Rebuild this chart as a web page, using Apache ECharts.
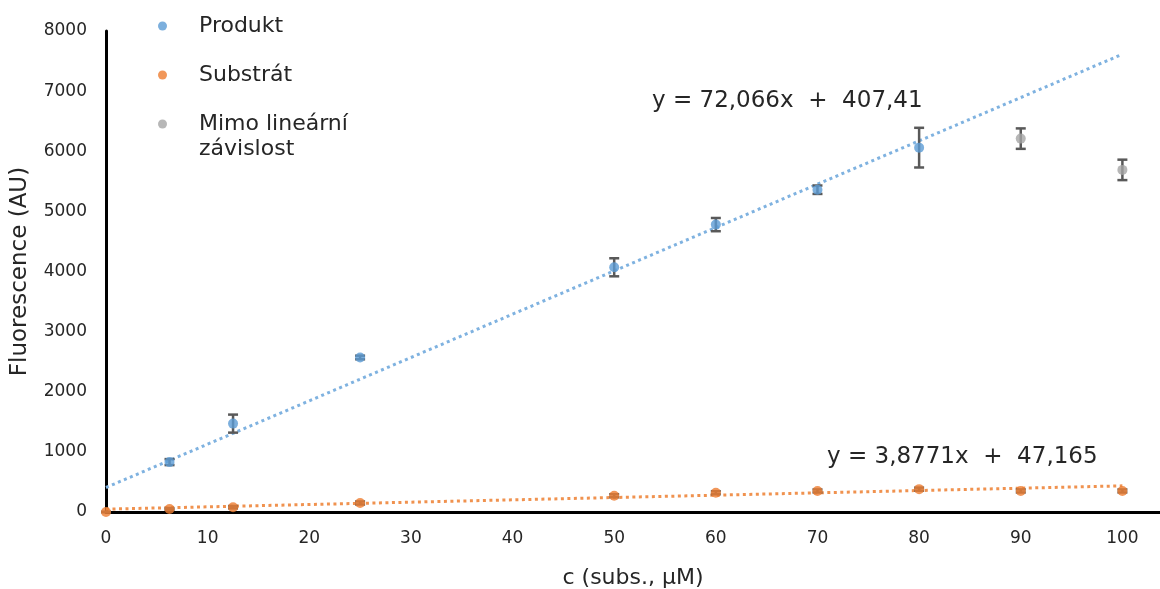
<!DOCTYPE html>
<html>
<head>
<meta charset="utf-8">
<script src="https://cdn.jsdelivr.net/npm/echarts@6/dist/echarts.min.js"></script>
<style>
html,body{margin:0;padding:0;background:#fff;}
#chart{width:1160px;height:589px;}
</style>
</head>
<body>
<div id="chart"></div>
<script>
// ---- data ----
var produktX = [6.25, 12.5, 25, 50, 60, 70, 80];
var produktY = [830, 1470, 2570, 4070, 4780, 5360, 6060];
var produktErr = [50, 150, 30, 150, 110, 70, 330];

var mimoX = [90, 100];
var mimoY = [6210, 5690];
var mimoErr = [170, 170];

var substratX = [0, 6.25, 12.5, 25, 50, 60, 70, 80, 90, 100];
var substratY = [0, 50, 80, 150, 270, 320, 350, 380, 350, 350];
var substratErr = [5, 15, 20, 25, 25, 25, 25, 25, 25, 25];

var trendProdukt = {slope: 72.066, intercept: 407.41, from: 0, to: 100};
var trendSubstrat = {slope: 3.8771, intercept: 47.165, from: 0, to: 100};

var eqProdukt = 'y = 72,066x  +  407,41';
var eqSubstrat = 'y = 3,8771x  +  47,165';

var xTicks = [0, 10, 20, 30, 40, 50, 60, 70, 80, 90, 100];
var yTicks = [0, 1000, 2000, 3000, 4000, 5000, 6000, 7000, 8000];

var names = ['Produkt', 'Substrát', 'Mimo lineární'];
var colors = ['#5B9BD5', '#ED7D31', '#A5A5A5'];

function zip(xs, ys) { return xs.map(function (x, i) { return [x, ys[i]]; }); }
function errData(xs, ys, es) { return xs.map(function (x, i) { return [x, ys[i] - es[i], ys[i] + es[i]]; }); }
function trend(t) { return [[t.from, t.slope * t.from + t.intercept], [t.to, t.slope * t.to + t.intercept]]; }

function errRender(params, api) {
  var x = api.value(0);
  var lo = api.coord([x, api.value(1)]);
  var hi = api.coord([x, api.value(2)]);
  var hw = 5;
  var st = {stroke: '#595959', lineWidth: 2.5};
  return {
    type: 'group',
    children: [
      {type: 'line', shape: {x1: lo[0], y1: lo[1], x2: hi[0], y2: hi[1]}, style: st},
      {type: 'line', shape: {x1: lo[0] - hw, y1: lo[1], x2: lo[0] + hw, y2: lo[1]}, style: st},
      {type: 'line', shape: {x1: hi[0] - hw, y1: hi[1], x2: hi[0] + hw, y2: hi[1]}, style: st}
    ]
  };
}

var FONT = 'DejaVu Sans';
var chart = echarts.init(document.getElementById('chart'), null, {renderer: 'canvas'});
chart.setOption({
  animation: false,
  backgroundColor: '#ffffff',
  textStyle: {fontFamily: FONT},
  grid: {left: 106, right: 0, top: 31, bottom: 77, containLabel: false, outerBoundsMode: 'none'},
  legend: {
    orient: 'vertical',
    left: 153,
    top: 10,
    itemGap: 27,
    icon: 'circle',
    itemWidth: 9,
    itemHeight: 9,
    selectedMode: false,
    data: names,
    textStyle: {fontFamily: FONT, fontSize: 22, color: '#262626', padding: [0, 0, 0, 27]}
  },
  graphic: [
    {type: 'text', left: 199, top: 138, style: {text: 'závislost', font: '22px "DejaVu Sans"', fill: '#262626'}},
    {type: 'text', left: 652, top: 90, style: {text: eqProdukt, font: '23px "DejaVu Sans"', fill: '#262626'}},
    {type: 'text', left: 827, top: 446, style: {text: eqSubstrat, font: '23px "DejaVu Sans"', fill: '#262626'}}
  ],
  xAxis: {
    type: 'value',
    min: 0,
    max: 103.7,
    interval: 10,
    name: 'c (subs., µM)',
    nameLocation: 'middle',
    nameGap: 55,
    nameTextStyle: {fontFamily: FONT, fontSize: 22, color: '#262626'},
    axisLine: {show: true, lineStyle: {color: '#000', width: 3}},
    axisTick: {show: false},
    splitLine: {show: false},
    axisLabel: {
      fontFamily: FONT, fontSize: 17, color: '#262626', margin: 18,
      showMaxLabel: false,
      formatter: function (v) { return xTicks.indexOf(v) >= 0 ? String(v) : ''; }
    }
  },
  yAxis: {
    type: 'value',
    min: 0,
    max: 8000,
    interval: 1000,
    name: 'Fluorescence (AU)',
    nameLocation: 'middle',
    nameGap: 74,
    nameRotate: 90,
    nameTextStyle: {fontFamily: FONT, fontSize: 23, color: '#262626'},
    axisLine: {show: true, lineStyle: {color: '#000', width: 3}},
    axisTick: {show: false},
    splitLine: {show: false},
    axisLabel: {
      fontFamily: FONT, fontSize: 17, color: '#262626', margin: 19,
      formatter: function (v) { return yTicks.indexOf(v) >= 0 ? String(v) : ''; }
    }
  },
  series: [
    {
      name: 'trendP', type: 'line', data: trend(trendProdukt), symbol: 'none', silent: true,
      lineStyle: {color: '#7FB2E0', width: 3, type: [3, 3.5]}, z: 1
    },
    {
      name: 'trendS', type: 'line', data: trend(trendSubstrat), symbol: 'none', silent: true,
      lineStyle: {color: '#F0924F', width: 3, type: [3, 3.5]}, z: 1
    },
    {type: 'custom', renderItem: errRender, data: errData(produktX, produktY, produktErr), z: 2, encode: {x: 0, y: [1, 2]}},
    {type: 'custom', renderItem: errRender, data: errData(mimoX, mimoY, mimoErr), z: 2, encode: {x: 0, y: [1, 2]}},
    {type: 'custom', renderItem: errRender, data: errData(substratX, substratY, substratErr), z: 2, encode: {x: 0, y: [1, 2]}},
    {
      name: names[0], type: 'scatter', data: zip(produktX, produktY), symbol: 'circle', symbolSize: 10,
      itemStyle: {color: colors[0]}, z: 3
    },
    {
      name: names[1], type: 'scatter', data: zip(substratX, substratY), symbol: 'circle', symbolSize: 10,
      itemStyle: {color: colors[1]}, z: 3
    },
    {
      name: names[2], type: 'scatter', data: zip(mimoX, mimoY), symbol: 'circle', symbolSize: 10,
      itemStyle: {color: colors[2]}, z: 3
    }
  ]
});
</script>
</body>
</html>
